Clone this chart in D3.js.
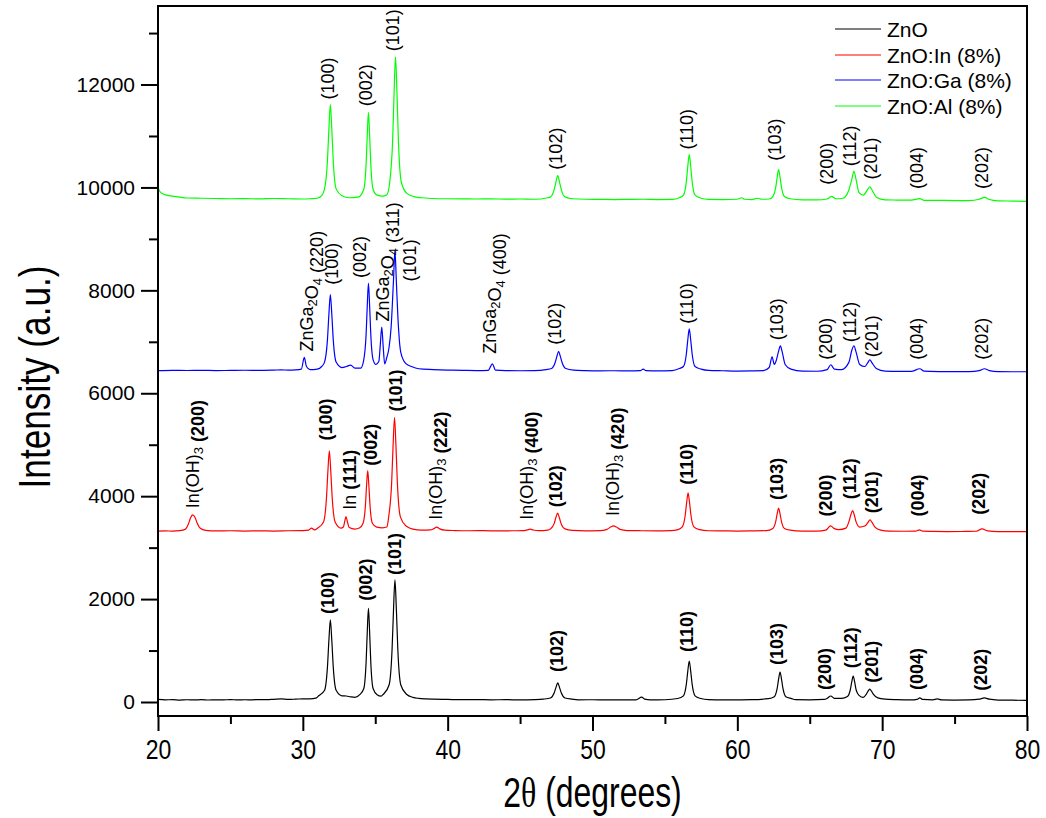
<!DOCTYPE html>
<html>
<head>
<meta charset="utf-8">
<script src="https://cdn.jsdelivr.net/npm/d3@7"></script>
<style>
  html, body { margin: 0; padding: 0; background: #fff; }
  svg { display: block; font-family: "Liberation Sans", Arial, sans-serif; }
</style>
</head>
<body>
<script>
// XRD patterns: [2θ (deg), intensity (a.u., offset for stacking)]
const znoData = [
  [20,50],[20.5,42],[21,45],[21.5,38],[22,44],[22.5,40],[23,46],[23.5,39],[24,43],[24.5,41],[25,47],[25.5,40],
  [26,44],[26.5,42],[27,48],[27.5,45],[28,52],[28.5,60],[29,50],[29.5,55],[30,62],[30.5,60],[30.9,75],
  [31.1,121],[31.5,227],[31.7,683],[31.8,1200],[31.9,1595],[32.0,1200],[32.1,683],[32.3,227],[32.7,121],
  [33.0,117],[33.3,100],[33.6,90],[33.93,142],[34.21,263],[34.37,783],[34.45,1372],[34.53,1822],[34.61,1372],
  [34.69,783],[34.85,263],[35.13,142],[35.4,115],[35.56,150],[35.96,336],[36.16,1015],[36.26,1785],[36.36,2373],
  [36.46,1785],[36.56,1015],[36.76,336],[37.16,150],[37.6,90],[38,70],[38.5,60],[39,55],[40,50],[41,45],[42,48],
  [43,42],[44,46],[45,40],[46,45],[46.6,55],[47.1,78],[47.35,175],[47.48,285],[47.6,370],[47.72,285],[47.85,175],
  [48.1,78],[48.6,55],[49,42],[50,44],[51,40],[52,43],[53,42],[53.4,95],[53.6,55],[54,40],[55,44],[55.88,68],
  [56.28,120],[56.48,346],[56.58,601],[56.68,797],[56.78,601],[56.88,346],[57.08,120],[57.48,68],[58,45],[59,40],
  [60,42],[61,45],[62.15,66],[62.55,103],[62.75,263],[62.85,444],[62.95,583],[63.05,444],[63.15,263],[63.35,103],
  [63.75,66],[64,45],[65,42],[66,50],[66.2,70],[66.45,117],[66.7,70],[67.2,70],[67.6,105],[67.8,238],[67.9,389],
  [68.0,505],[68.1,389],[68.2,238],[68.4,130],[68.7,90],[68.9,150],[69.05,220],[69.15,253],[69.25,215],[69.4,150],
  [69.7,80],[70.2,55],[71,45],[72,40],[72.4,50],[72.6,80],[72.8,50],[73.5,42],[73.8,60],[74.1,40],[75,38],[76,40],
  [76.7,55],[77.05,80],[77.4,55],[78,38],[79,35],[80,30]
];

const inData = [
  [20,3320],[20.5,3325],[21,3322],[21.5,3330],[21.9,3360],[22.1,3460],[22.25,3580],[22.4,3637],[22.55,3590],
  [22.7,3480],[22.9,3380],[23.3,3335],[24,3325],[25,3328],[26,3322],[27,3326],[28,3322],[29,3328],[30,3330],
  [30.4,3340],[30.6,3378],[30.8,3345],[31.03,3380],[31.43,3499],[31.63,3959],[31.73,4482],[31.83,4881],[31.93,4482],
  [32.03,3959],[32.23,3499],[32.63,3380],[32.8,3400],[32.9,3520],[32.98,3604],[33.08,3500],[33.2,3390],[33.6,3360],
  [33.9,3380],[34.16,3474],[34.32,3815],[34.4,4202],[34.48,4498],[34.56,4202],[34.64,3815],[34.8,3474],[35.1,3400],
  [35.5,3385],[35.8,3400],[35.93,3604],[36.13,4246],[36.23,4973],[36.33,5529],[36.43,4973],[36.53,4246],[36.73,3604],
  [37.13,3420],[37.6,3360],[38.2,3340],[38.8,3345],[39.05,3370],[39.24,3397],[39.45,3365],[39.8,3340],[40.5,3332],
  [41.5,3328],[42.5,3330],[43.5,3325],[44.5,3328],[45.2,3330],[45.5,3345],[45.7,3358],[45.9,3343],[46.3,3330],
  [46.9,3340],[47.1,3364],[47.35,3466],[47.47,3582],[47.59,3670],[47.71,3582],[47.83,3466],[48.1,3364],[48.6,3335],
  [49.5,3326],[50.5,3330],[51.0,3355],[51.25,3400],[51.45,3423],[51.65,3400],[51.9,3355],[52.4,3332],[53.4,3328],
  [54.4,3326],[55.4,3330],[55.9,3350],[56.2,3404],[56.4,3624],[56.5,3874],[56.6,4065],[56.7,3874],[56.8,3624],
  [57.0,3404],[57.4,3350],[58,3328],[59,3325],[60,3322],[61,3325],[62,3330],[62.45,3374],[62.65,3506],[62.75,3656],
  [62.85,3770],[62.95,3656],[63.05,3506],[63.25,3374],[63.65,3340],[64.5,3322],[65.5,3320],[66.1,3340],[66.44,3423],
  [66.7,3370],[67.0,3350],[67.5,3380],[67.7,3500],[67.85,3650],[67.96,3720],[68.07,3640],[68.2,3500],[68.45,3400],
  [68.8,3420],[69.0,3480],[69.16,3540],[69.3,3490],[69.5,3400],[69.9,3340],[70.5,3320],[71.5,3318],[72.3,3320],
  [72.57,3345],[72.8,3320],[73.5,3315],[74.5,3312],[75.5,3314],[76.5,3318],[76.9,3364],[77.3,3325],[78,3312],
  [79,3310],[80,3312]
];

const gaData = [
  [20,6440],[21,6445],[22,6442],[23,6446],[24,6440],[25,6444],[26,6447],[27,6443],[28,6450],[28.5,6455],[29,6450],
  [29.5,6455],[29.9,6470],[30.1,6696],[30.25,6520],[30.5,6460],[31.0,6470],[31.3,6520],[31.5,6606],[31.7,7042],
  [31.8,7537],[31.9,7915],[32.0,7537],[32.1,7042],[32.3,6606],[32.7,6500],[33.0,6520],[33.3,6548],[33.6,6490],
  [34.0,6490],[34.21,6655],[34.37,7151],[34.45,7712],[34.53,8142],[34.61,7712],[34.69,7151],[34.85,6655],[35.05,6560],
  [35.25,6620],[35.35,6950],[35.45,7287],[35.55,6900],[35.65,6573],[35.8,6700],[35.95,6884],[36.1,7300],[36.26,8200],
  [36.36,8771],[36.46,8150],[36.56,7500],[36.76,6800],[37.1,6580],[37.5,6520],[38.0,6476],[39,6460],[40,6450],
  [41,6445],[42,6440],[42.8,6445],[43.09,6573],[43.3,6450],[44,6440],[45,6438],[46,6440],[46.8,6460],[47.16,6480],
  [47.41,6589],[47.54,6716],[47.66,6813],[47.78,6716],[47.91,6589],[48.16,6480],[48.7,6450],[49.5,6440],[50.5,6436],
  [51.5,6438],[52.5,6434],[53.3,6440],[53.5,6470],[53.7,6440],[54.5,6436],[55.5,6440],[56.0,6480],[56.28,6520],
  [56.48,6764],[56.58,7040],[56.68,7250],[56.78,7040],[56.88,6764],[57.08,6520],[57.5,6470],[58,6445],[59,6438],
  [60,6432],[61,6435],[61.8,6440],[62.2,6500],[62.4,6709],[62.55,6560],[62.7,6650],[62.85,6820],[62.97,6920],
  [63.1,6800],[63.3,6560],[63.7,6470],[64.5,6430],[65.5,6428],[66.2,6460],[66.45,6554],[66.7,6470],[67.2,6460],
  [67.7,6600],[67.92,6850],[68.05,6923],[68.2,6800],[68.45,6560],[68.8,6520],[69.0,6590],[69.15,6650],[69.3,6590],
  [69.6,6480],[70.2,6430],[71,6425],[72,6425],[72.6,6476],[72.9,6430],[74,6422],[75,6420],[76,6422],[76.7,6440],
  [77.07,6476],[77.4,6440],[78,6420],[79,6418],[80,6418]
];

const alData = [
  [20,10000],[20.1,9930],[20.3,9880],[20.6,9850],[21,9830],[21.5,9810],[22,9795],[23,9790],[24,9785],[25,9780],
  [26,9782],[27,9778],[28,9785],[29,9780],[30,9775],[30.5,9780],[31.0,9790],[31.3,9840],[31.5,9972],[31.7,10518],
  [31.8,11137],[31.9,11610],[32.0,11137],[32.1,10518],[32.3,9972],[32.7,9840],[33.2,9800],[33.8,9810],[34.21,9966],
  [34.37,10464],[34.45,11029],[34.53,11461],[34.61,11029],[34.69,10464],[34.85,9966],[35.13,9850],[35.5,9830],
  [35.8,9860],[36.0,10101],[36.2,10913],[36.3,11834],[36.4,12538],[36.5,11834],[36.6,10913],[36.8,10101],[37.2,9880],
  [37.8,9810],[38.2,9800],[39,9785],[40,9780],[41,9778],[42,9775],[43,9778],[44,9772],[45,9775],[46,9770],[46.9,9800],
  [47.1,9816],[47.35,9954],[47.48,10110],[47.6,10230],[47.72,10110],[47.85,9954],[48.1,9816],[48.6,9780],[49.5,9770],
  [50.5,9768],[51.5,9765],[52.5,9768],[53.5,9770],[54.5,9765],[55.5,9768],[56.0,9800],[56.28,9852],[56.48,10114],
  [56.58,10411],[56.68,10638],[56.78,10411],[56.88,10114],[57.08,9852],[57.5,9790],[58,9768],[59,9765],[60,9770],
  [60.3,9800],[60.5,9770],[61,9765],[61.4,9790],[61.7,9770],[62.2,9775],[62.45,9823],[62.65,10000],[62.75,10195],
  [62.85,10346],[62.95,10195],[63.05,10000],[63.25,9823],[63.65,9780],[64.5,9760],[65.5,9758],[66.2,9775],
  [66.5,9827],[66.8,9780],[67.3,9790],[67.7,9950],[67.9,10150],[68.05,10313],[68.2,10150],[68.4,9900],[68.7,9850],
  [69.0,9960],[69.15,10010],[69.3,9950],[69.6,9810],[70.2,9760],[71,9755],[72,9752],[72.6,9782],[72.9,9750],
  [74,9748],[75,9745],[76,9745],[76.7,9770],[77.07,9808],[77.4,9765],[78,9740],[79,9735],[80,9730]
];

// Peak labels: [2θ, intensity at label foot, phase prefix, (hkl)]
const znoLabels = [
  [31.74,1711,"","(100)"],[34.34,1970,"","(002)"],[36.34,2470,"","(101)"],[47.52,583,"","(102)"],
  [56.55,972,"","(110)"],[62.76,720,"","(103)"],[66.05,233,"","(200)"],[67.83,655,"","(112)"],
  [69.33,375,"","(201)"],[72.39,233,"","(004)"],[76.8,220,"","(202)"]
];
const inLabels = [
  [22.39,3767,"In(OH)_3 ","(200)"],[31.63,5082,"","(100)"],[33.24,3734,"In ","(111)"],[34.74,4590,"","(002)"],
  [36.46,5646,"","(101)"],[39.17,3540,"In(OH)_3 ","(222)"],[45.5,3540,"In(OH)_3 ","(400)"],[47.5,3786,"","(102)"],
  [51.4,3617,"In(OH)_3 ","(420)"],[56.55,4220,"","(110)"],[62.76,3928,"","(103)"],[66.12,3604,"","(200)"],
  [67.79,3942,"","(112)"],[69.33,3670,"","(201)"],[72.5,3604,"","(004)"],[76.69,3637,"","(202)"]
];
const gaLabels = [
  [30.26,6813,"ZnGa_2O_4 ","(220)"],[31.98,8110,"","(100)"],[33.93,8240,"","(002)"],[35.54,7396,"ZnGa_2O_4 ","(311)"],
  [37.38,8174,"","(101)"],[42.9,6768,"ZnGa_2O_4 ","(400)"],[47.43,6943,"","(102)"],[56.55,7350,"","(110)"],
  [62.76,7030,"","(103)"],[66.15,6650,"","(200)"],[67.8,6990,"","(112)"],[69.33,6700,"","(201)"],
  [72.4,6651,"","(004)"],[76.9,6651,"","(202)"]
];
const alLabels = [
  [31.77,11707,"","(100)"],[34.34,11577,"","(002)"],[36.23,12647,"","(101)"],[47.45,10346,"","(102)"],
  [56.5,10735,"","(110)"],[62.62,10521,"","(103)"],[66.19,10054,"","(200)"],[67.77,10411,"","(112)"],
  [69.26,10152,"","(201)"],[72.39,9971,"","(004)"],[76.9,9971,"","(202)"]
];

const seriesNames = ["ZnO", "ZnO:In (8%)", "ZnO:Ga (8%)", "ZnO:Al (8%)"];
const xMajorTicks = [20, 30, 40, 50, 60, 70, 80];
const xMinorTicks = [25, 35, 45, 55, 65, 75];
const yMajorTicks = [0, 2000, 4000, 6000, 8000, 10000, 12000];
const yMinorTicks = [1000, 3000, 5000, 7000, 9000, 11000, 13000];

const W = 1046, H = 818;
const plot = { left: 158, right: 1027, top: 6, bottom: 716 };

const svg = d3.select("body").append("svg").attr("width", W).attr("height", H);

const x = d3.scaleLinear().domain([20, 80]).range([plot.left, plot.right]);
const y = d3.scaleLinear().domain([-272, 13526]).range([plot.bottom, plot.top]);

svg.append("defs").append("clipPath").attr("id", "plotClip")
  .append("rect").attr("x", plot.left).attr("y", plot.top)
  .attr("width", plot.right - plot.left).attr("height", plot.bottom - plot.top);

const series = [
  { name: seriesNames[0], data: znoData, labels: znoLabels, color: "#000000", bold: true },
  { name: seriesNames[1], data: inData,  labels: inLabels,  color: "#ff0000", bold: true },
  { name: seriesNames[2], data: gaData,  labels: gaLabels,  color: "#0000ff", bold: false },
  { name: seriesNames[3], data: alData,  labels: alLabels,  color: "#00ff00", bold: false }
];

const line = d3.line().x(d => x(d[0])).y(d => y(d[1])).curve(d3.curveMonotoneX);

const curves = svg.append("g").attr("clip-path", "url(#plotClip)");
series.forEach(s => {
  curves.append("path").datum(s.data)
    .attr("fill", "none").attr("stroke", s.color).attr("stroke-width", 1.2)
    .attr("stroke-linejoin", "round").attr("d", line);
});

// Writes text with "_n" subscripts into a text element
function addRich(textSel, str, weight) {
  const parts = str.split(/(_\d)/).filter(p => p.length);
  parts.forEach(p => {
    if (p[0] === "_") {
      textSel.append("tspan").attr("font-size", 13).attr("dy", 5).attr("font-weight", weight).text(p.slice(1));
      textSel.append("tspan").attr("dy", -5).text("");
    } else {
      textSel.append("tspan").attr("font-weight", weight).text(p);
    }
  });
}

const labelG = svg.append("g");
series.forEach(s => {
  s.labels.forEach(l => {
    const t = labelG.append("text")
      .attr("transform", `translate(${x(l[0])},${y(l[1])}) rotate(-90)`)
      .attr("dominant-baseline", "central")
      .attr("font-size", 18).attr("fill", "#000");
    if (l[2]) addRich(t, l[2], "normal");
    t.append("tspan").attr("font-weight", s.bold ? "bold" : "normal").text(l[3]);
  });
});

// Frame
svg.append("rect").attr("x", plot.left).attr("y", plot.top)
  .attr("width", plot.right - plot.left).attr("height", plot.bottom - plot.top)
  .attr("fill", "none").attr("stroke", "#000").attr("stroke-width", 2);

// X axis
const xAxis = svg.append("g").attr("transform", `translate(0,${plot.bottom})`)
  .call(d3.axisBottom(x).tickValues(xMajorTicks).tickSize(15).tickSizeOuter(0).tickPadding(8).tickFormat(d3.format("d")));
svg.append("g").attr("transform", `translate(0,${plot.bottom})`)
  .call(d3.axisBottom(x).tickValues(xMinorTicks).tickSize(8).tickSizeOuter(0).tickFormat(""));

// Y axis
const yAxis = svg.append("g").attr("transform", `translate(${plot.left},0)`)
  .call(d3.axisLeft(y).tickValues(yMajorTicks).tickSize(17).tickSizeOuter(0).tickPadding(6).tickFormat(d3.format("d")));
svg.append("g").attr("transform", `translate(${plot.left},0)`)
  .call(d3.axisLeft(y).tickValues(yMinorTicks).tickSize(9).tickSizeOuter(0).tickFormat(""));

svg.selectAll(".domain").remove();
svg.selectAll(".tick line").attr("stroke", "#000").attr("stroke-width", 2);
xAxis.selectAll(".tick text")
  .attr("font-size", 28).attr("font-family", "Liberation Sans, Arial, sans-serif").attr("fill", "#000")
  .each(function () {
    const t = d3.select(this);
    t.attr("transform", "scale(0.82,1)").attr("x", +t.attr("x") || 0);
  });
// keep condensed labels centred on their ticks
xAxis.selectAll(".tick text").attr("transform", "scale(0.82,1)");
yAxis.selectAll(".tick text").attr("font-size", 21).attr("font-family", "Liberation Sans, Arial, sans-serif").attr("fill", "#000");

// Axis titles
const xTitle = svg.append("text")
  .attr("transform", `translate(${(plot.left + plot.right) / 2},807) scale(0.76,1)`)
  .attr("text-anchor", "middle").attr("font-size", 42).attr("fill", "#000");
xTitle.append("tspan").text("2");
xTitle.append("tspan").attr("font-family", "Liberation Serif, serif").text("θ");
xTitle.append("tspan").text(" (degrees)");

svg.append("text")
  .attr("transform", `translate(50,${(plot.top + plot.bottom) / 2 + 16}) rotate(-90) scale(0.8,1)`)
  .attr("text-anchor", "middle").attr("font-size", 44).attr("fill", "#000")
  .text("Intensity (a.u.)");

// Legend
const legend = svg.append("g");
const legendRows = [29, 55, 80, 106];
series.forEach((s, i) => {
  legend.append("line").attr("x1", 835).attr("x2", 881)
    .attr("y1", legendRows[i]).attr("y2", legendRows[i])
    .attr("stroke", s.color).attr("stroke-width", 1.2);
  legend.append("text").attr("x", 887).attr("y", legendRows[i])
    .attr("dominant-baseline", "central").attr("font-size", 21).attr("fill", "#000")
    .text(s.name);
});
</script>
</body>
</html>
